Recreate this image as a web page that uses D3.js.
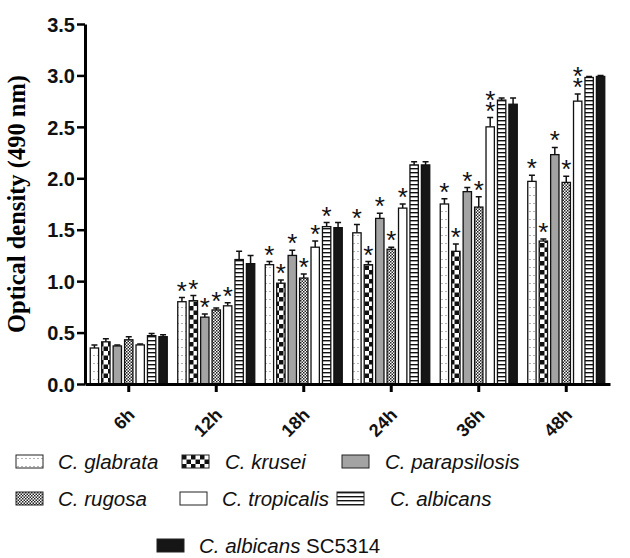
<!DOCTYPE html>
<html>
<head>
<meta charset="utf-8">
<script src="https://cdn.jsdelivr.net/npm/d3@7"></script>
<style>
  body { margin: 0; background: #fff; }
  svg { display: block; }
</style>
</head>
<body>
<div id="chart"></div>
<script>
// categories / series
var times = ["6h", "12h", "18h", "24h", "36h", "48h"];
var species = ["C. glabrata", "C. krusei", "C. parapsilosis", "C. rugosa", "C. tropicalis", "C. albicans", "C. albicans SC5314"];

// mean optical density, one array per species
var glabrata     = [0.35, 0.80, 1.16, 1.47, 1.75, 1.97];
var krusei       = [0.41, 0.81, 0.98, 1.16, 1.29, 1.39];
var parapsilosis = [0.37, 0.65, 1.25, 1.61, 1.87, 2.23];
var rugosa       = [0.43, 0.72, 1.03, 1.31, 1.72, 1.96];
var tropicalis   = [0.38, 0.76, 1.33, 1.71, 2.50, 2.75];
var albicans     = [0.47, 1.21, 1.53, 2.13, 2.76, 2.98];
var sc5314       = [0.46, 1.17, 1.52, 2.13, 2.72, 2.99];

// error bars (upper whisker only)
var errGlabrata     = [0.03, 0.04, 0.03, 0.08, 0.05, 0.06];
var errKrusei       = [0.03, 0.05, 0.03, 0.03, 0.07, 0.02];
var errParapsilosis = [0.01, 0.03, 0.05, 0.05, 0.04, 0.07];
var errRugosa       = [0.03, 0.02, 0.04, 0.02, 0.10, 0.06];
var errTropicalis   = [0.01, 0.03, 0.06, 0.04, 0.09, 0.07];
var errAlbicans     = [0.02, 0.08, 0.04, 0.03, 0.02, 0.01];
var errSc5314       = [0.02, 0.08, 0.05, 0.03, 0.06, 0.01];

// number of asterisks above each bar
var starGlabrata     = [0, 1, 1, 1, 1, 1];
var starKrusei       = [0, 1, 1, 1, 1, 1];
var starParapsilosis = [0, 1, 1, 1, 1, 1];
var starRugosa       = [0, 1, 1, 1, 1, 1];
var starTropicalis   = [0, 1, 1, 1, 2, 2];
var starAlbicans     = [0, 0, 1, 0, 0, 0];
var starSc5314       = [0, 0, 0, 0, 0, 0];

var yTicks = [0, 0.5, 1.0, 1.5, 2.0, 2.5, 3.0, 3.5];

var values = [glabrata, krusei, parapsilosis, rugosa, tropicalis, albicans, sc5314];
var errors = [errGlabrata, errKrusei, errParapsilosis, errRugosa, errTropicalis, errAlbicans, errSc5314];
var stars  = [starGlabrata, starKrusei, starParapsilosis, starRugosa, starTropicalis, starAlbicans, starSc5314];
var fills  = ["url(#dots)", "url(#checker)", "#a3a3a3", "url(#fine)", "#fff", "url(#stripes)", "#161616"];

var W = 630, H = 558;
var svg = d3.select("#chart").append("svg").attr("width", W).attr("height", H);

// patterns
var defs = svg.append("defs");
var p1 = defs.append("pattern").attr("id", "dots").attr("patternUnits", "userSpaceOnUse")
  .attr("width", 4).attr("height", 8);
p1.append("rect").attr("width", 4).attr("height", 8).attr("fill", "#fff");
p1.append("rect").attr("x", 1.5).attr("y", 3).attr("width", 1).attr("height", 1).attr("fill", "#666");

var p2 = defs.append("pattern").attr("id", "checker").attr("patternUnits", "userSpaceOnUse")
  .attr("width", 9).attr("height", 9);
p2.append("rect").attr("width", 9).attr("height", 9).attr("fill", "#fff");
p2.append("rect").attr("width", 4.5).attr("height", 4.5).attr("fill", "#111");
p2.append("rect").attr("x", 4.5).attr("y", 4.5).attr("width", 4.5).attr("height", 4.5).attr("fill", "#111");

var p3 = defs.append("pattern").attr("id", "fine").attr("patternUnits", "userSpaceOnUse")
  .attr("width", 3).attr("height", 3);
p3.append("rect").attr("width", 3).attr("height", 3).attr("fill", "#fff");
p3.append("rect").attr("width", 1.5).attr("height", 1.5).attr("fill", "#222");
p3.append("rect").attr("x", 1.5).attr("y", 1.5).attr("width", 1.5).attr("height", 1.5).attr("fill", "#222");

var p4 = defs.append("pattern").attr("id", "stripes").attr("patternUnits", "userSpaceOnUse")
  .attr("width", 6).attr("height", 4);
p4.append("rect").attr("width", 6).attr("height", 4).attr("fill", "#fff");
p4.append("rect").attr("y", 0).attr("width", 6).attr("height", 1.4).attr("fill", "#111");

// scales
var y = d3.scaleLinear().domain([0, 3.5]).range([384, 24]);
var x0 = d3.scaleBand().domain(times).range([85, 610]).paddingInner(0.12).paddingOuter(0.06);
var x1 = d3.scaleBand().domain(d3.range(species.length)).range([0, x0.bandwidth()]).paddingInner(0.27).paddingOuter(0);

// flat list of bars
var bars = [];
times.forEach(function(t, ti) {
  species.forEach(function(s, si) {
    bars.push({ t: t, s: si, v: values[si][ti], e: errors[si][ti], n: stars[si][ti] });
  });
});

var g = svg.append("g");
var bx = function(d) { return x0(d.t) + x1(d.s); };
var bw = x1.bandwidth();

// error whiskers (drawn first so bar outline sits on top)
g.selectAll(".err").data(bars).enter().append("path")
  .attr("class", "err")
  .attr("d", function(d) {
    var cx = bx(d) + bw / 2, top = y(d.v + d.e);
    return "M" + cx + "," + y(d.v) + "V" + top + "M" + (cx - 3) + "," + top + "H" + (cx + 3);
  })
  .attr("stroke", "#111").attr("stroke-width", 1.5).attr("fill", "none");

g.selectAll(".bar").data(bars).enter().append("rect")
  .attr("class", "bar")
  .attr("x", bx)
  .attr("y", function(d) { return y(d.v); })
  .attr("width", bw)
  .attr("height", function(d) { return y(0) - y(d.v); })
  .attr("fill", function(d) { return fills[d.s]; })
  .attr("stroke", "#111").attr("stroke-width", 1.3);

// asterisks: one text per bar, stacked tspans when there are two
var starText = g.selectAll(".star").data(bars.filter(function(d) { return d.n > 0; })).enter().append("text")
  .attr("class", "star")
  .attr("x", function(d) { return bx(d) + bw / 2; })
  .attr("y", function(d) { return y(d.v + d.e) + 2 - (d.n - 1) * 11; })
  .attr("text-anchor", "middle")
  .style("font-family", "'Liberation Sans', Arial, sans-serif")
  .style("font-size", "26px")
  .attr("fill", "#111");
starText.each(function(d) {
  var t = d3.select(this);
  for (var k = 0; k < d.n; k++) {
    t.append("tspan")
      .attr("x", bx(d) + bw / 2)
      .attr("dy", k === 0 ? 0 : 11)
      .text("*");
  }
});

// axes
var yAxis = svg.append("g").attr("transform", "translate(85,0)")
  .call(d3.axisLeft(y).tickValues(yTicks).tickFormat(d3.format(".1f")).tickSize(8).tickSizeOuter(0));
yAxis.select(".domain").attr("stroke-width", 3);
yAxis.selectAll(".tick line").attr("stroke-width", 2.5);
yAxis.selectAll(".tick text")
  .attr("x", -10).attr("dy", "0.36em")
  .style("font-family", "'Liberation Sans', Arial, sans-serif")
  .style("font-weight", "bold").style("font-size", "20px").attr("fill", "#111");

var xAxis = svg.append("g").attr("transform", "translate(0,384)")
  .call(d3.axisBottom(x0).tickSize(8).tickSizeOuter(0));
xAxis.select(".domain").attr("stroke-width", 3);
xAxis.selectAll(".tick line").attr("stroke-width", 3);
xAxis.selectAll(".tick text")
  .attr("text-anchor", "end")
  .attr("x", 0).attr("y", 0).attr("dy", 0)
  .attr("transform", "translate(7,32) rotate(-45)")
  .style("font-family", "'Liberation Sans', Arial, sans-serif")
  .style("font-weight", "bold").style("font-size", "18px").attr("fill", "#111");

svg.append("text")
  .attr("transform", "translate(25,204) rotate(-90)")
  .attr("text-anchor", "middle")
  .style("font-family", "'Liberation Serif', 'Times New Roman', serif")
  .style("font-weight", "bold").style("font-size", "24.5px")
  .text("Optical density (490 nm)");

// legend
var legendPos = [[16, 455], [182, 455], [342, 455], [16, 492], [180, 492], [337, 492], [157, 539]];
var textGap = [42, 43, 43, 42, 42, 53, 42];
var lg = svg.selectAll(".leg").data(species).enter().append("g")
  .attr("class", "leg")
  .attr("transform", function(d, i) { return "translate(" + legendPos[i][0] + "," + legendPos[i][1] + ")"; });
lg.append("rect").attr("width", 27).attr("height", 13)
  .attr("fill", function(d, i) { return fills[i]; })
  .attr("stroke", "#222").attr("stroke-width", 1);
var lt = lg.append("text")
  .attr("x", function(d, i) { return textGap[i]; })
  .attr("y", 14)
  .style("font-family", "'Liberation Sans', Arial, sans-serif")
  .style("font-size", "20.5px").attr("fill", "#111");
lt.each(function(d) {
  var t = d3.select(this);
  if (d.indexOf("SC5314") > -1) {
    t.append("tspan").style("font-style", "italic").text("C. albicans");
    t.append("tspan").text(" SC5314");
  } else {
    t.append("tspan").style("font-style", "italic").text(d);
  }
});
</script>
</body>
</html>
